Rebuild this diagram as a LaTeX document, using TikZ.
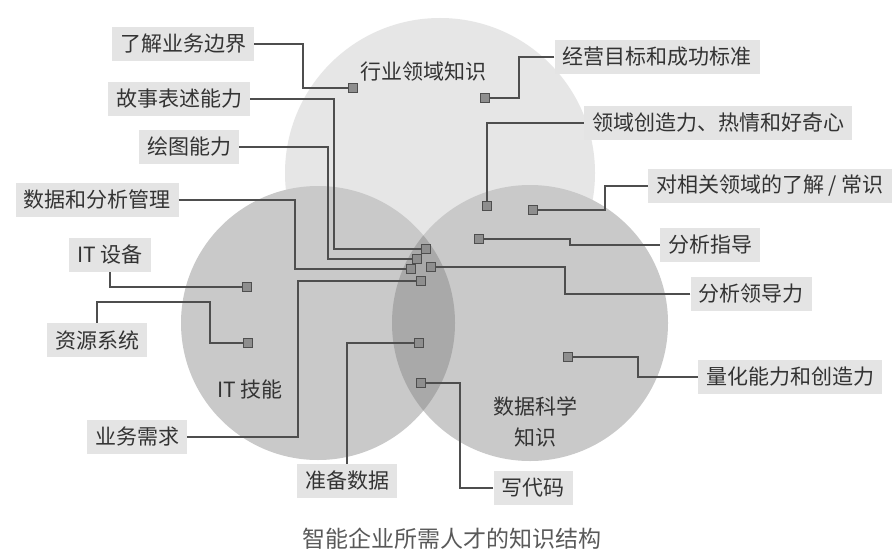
\documentclass[tikz,border=0pt]{standalone}
\usepackage{fontspec}
\setmainfont{Noto Sans CJK SC}
\definecolor{bgtop}{HTML}{E6E6E6}
\definecolor{bgside}{HTML}{C9C9C9}
\definecolor{bglens}{HTML}{A9A9A9}
\definecolor{boxfill}{HTML}{E4E4E4}
\definecolor{linecol}{HTML}{4E4E4E}
\definecolor{txtcol}{HTML}{333333}
\definecolor{sqfill}{HTML}{8E8E8E}
\tikzset{
  lbl/.style={fill=boxfill, text=txtcol, inner xsep=8pt, inner ysep=0pt, minimum height=34pt,
    font=\fontsize{21}{24}\selectfont},
  title/.style={text=txtcol, inner sep=0pt, font=\fontsize{21}{24}\selectfont},
  sq/.style={draw=linecol, fill=sqfill, line width=1.1pt, minimum size=9pt, inner sep=0pt},
  conn/.style={draw=linecol, line width=1.25pt}
}
\begin{document}
\begin{tikzpicture}[x=1pt,y=-1pt]
\useasboundingbox (0,0) rectangle (896,551);
\fill[white] (0,0) rectangle (896,551);
% circles
\fill[bgtop] (440,173) circle (155);
\fill[bgside] (318,323) circle (137);
\fill[bgside] (530,323) circle (138);
\begin{scope}
  \clip (318,323) circle (137);
  \fill[bglens] (530,323) circle (138);
\end{scope}
% circle titles
\node[title] (tTop) at (423,72) {行业领域知识};
\node[title] (tLeft) at (250,390) {IT 技能};
\node[title, align=center, font=\fontsize{21}{31}\selectfont] (tRight) at (535,422) {数据科学\\知识};
% squares
\node[sq] (sA) at (353,88) {};
\node[sq] (sB) at (485,98) {};
\node[sq] (sC) at (426,249) {};
\node[sq] (sD) at (417,259) {};
\node[sq] (sE) at (487,206) {};
\node[sq] (sF) at (533,210) {};
\node[sq] (sG) at (411,269) {};
\node[sq] (sH) at (479,239) {};
\node[sq] (sI) at (247,287) {};
\node[sq] (sJ) at (431,267) {};
\node[sq] (sK) at (248,343) {};
\node[sq] (sL) at (421,281) {};
\node[sq] (sM) at (568,357) {};
\node[sq] (sN) at (419,343) {};
\node[sq] (sO) at (421,383) {};
% labels
\node[lbl] (lA) at (183,44) {了解业务边界};
\node[lbl] (lB) at (657,57) {经营目标和成功标准};
\node[lbl] (lC) at (179,99) {故事表述能力};
\node[lbl] (lD) at (189,147) {绘图能力};
\node[lbl] (lE) at (718,123) {领域创造力、热情和好奇心};
\node[lbl] (lF) at (770,186) {对相关领域的了解 / 常识};
\node[lbl] (lG) at (97,200) {数据和分析管理};
\node[lbl] (lH) at (710,245) {分析指导};
\node[lbl] (lI) at (110,255) {IT 设备};
\node[lbl] (lJ) at (751,294) {分析领导力};
\node[lbl] (lK) at (97,340) {资源系统};
\node[lbl] (lL) at (137,437) {业务需求};
\node[lbl] (lM) at (790,377) {量化能力和创造力};
\node[lbl] (lN) at (347,481) {准备数据};
\node[lbl] (lO) at (533,488) {写代码};
% connectors
\draw[conn] (lA.east) -- (303,44) -- (303,88) -- (sA.west);
\draw[conn] (lB.west) -- (519,57) -- (519,98) -- (sB.east);
\draw[conn] (lC.east) -- (334,99) -- (334,249) -- (sC.west);
\draw[conn] (lD.east) -- (328,147) -- (328,259) -- (sD.west);
\draw[conn] (lE.west) -- (487,123) -- (sE.north);
\draw[conn] (lF.west) -- (605,186) -- (605,210) -- (sF.east);
\draw[conn] (lG.east) -- (295,200) -- (295,269) -- (sG.west);
\draw[conn] (lH.west) -- (570,245) -- (570,239) -- (sH.east);
\draw[conn] (lI.south) -- (lI.south |- sI) -- (sI.west);
\draw[conn] (lJ.west) -- (565,294) -- (565,267) -- (sJ.east);
\draw[conn] (lK.north) |- (210,302) -- (210,343) -- (sK.west);
\draw[conn] (lL.east) -- (298,437) -- (298,281) -- (sL.west);
\draw[conn] (lM.west) -- (638,377) -- (638,357) -- (sM.east);
\draw[conn] (lN.north) |- (sN.west);
\draw[conn] (lO.west) -- (460,488) -- (460,383) -- (sO.east);
% redraw squares on top of connectors
\foreach \s in {sA,sB,sC,sD,sE,sF,sG,sH,sI,sJ,sK,sL,sM,sN,sO}{
  \node[sq] at (\s) {};
}
% caption
\node[text=black!65, inner sep=0pt, font=\fontsize{23}{26}\selectfont] (cap) at (452,539) {智能企业所需人才的知识结构};
\end{tikzpicture}
\end{document}
